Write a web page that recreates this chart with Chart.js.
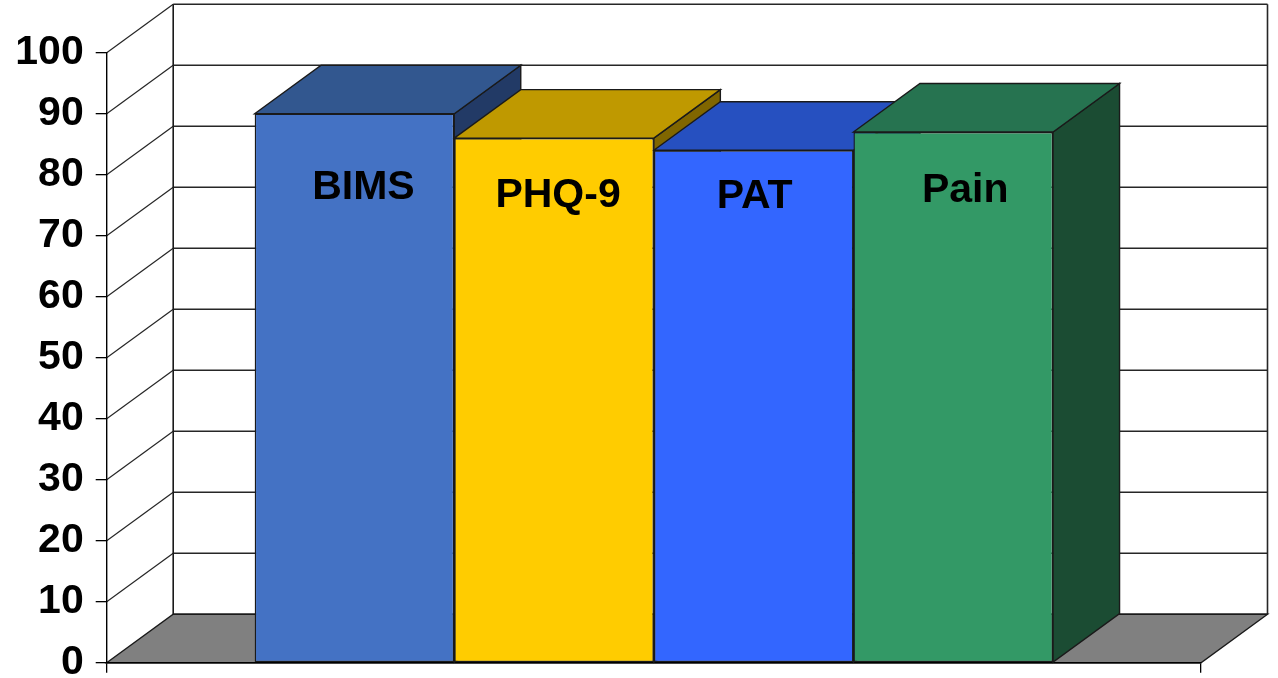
<!DOCTYPE html>
<html>
<head>
<meta charset="utf-8">
<title>Screening completion</title>
<script src="https://cdn.jsdelivr.net/npm/chart.js@4.4.1/dist/chart.umd.min.js"></script>
<style>
  html, body { margin: 0; padding: 0; background: #ffffff; }
  #wrap { width: 1278px; height: 678px; }
</style>
</head>
<body>
<div id="wrap"><canvas id="chart" width="1278" height="678"></canvas></div>
<script>
// Series (one bar per instrument) and their scores
const categories = ['BIMS', 'PHQ-9', 'PAT', 'Pain'];
const scores = [90, 86, 84, 87];
// Value axis
const yMin = 0;
const yMax = 100;
const yStep = 10;

// Face colours for each bar: front, top, side
const frontColors = ['#4472C4', '#FFCC00', '#3366FF', '#339966'];
const topColors   = ['#32578F', '#BF9900', '#2650C0', '#267350'];
const sideColors  = ['#223A66', '#806600', '#1A3380', '#1B4C33'];

// Depth of the 3D box (pixels to the right and upward)
const DEPTH_X = 66.5;
const DEPTH_Y = 48.5;
// Series-name labels sit near the same height in every bar, with small nudges
const LABEL_LEVEL = 75;
const labelNudge = [[9, -6], [4, 1.5], [1, 3], [12, -3]];

const FONT = '"Liberation Sans", Arial, Helvetica, sans-serif';
const LINE = '#1a1a1a';

function poly(ctx, pts, fill, stroke, lw) {
  ctx.beginPath();
  ctx.moveTo(pts[0][0], pts[0][1]);
  for (let i = 1; i < pts.length; i++) ctx.lineTo(pts[i][0], pts[i][1]);
  ctx.closePath();
  if (fill) { ctx.fillStyle = fill; ctx.fill(); }
  if (stroke) { ctx.strokeStyle = stroke; ctx.lineWidth = lw; ctx.lineJoin = 'miter'; ctx.stroke(); }
}

function line(ctx, x1, y1, x2, y2, color, lw) {
  ctx.beginPath();
  ctx.moveTo(x1, y1);
  ctx.lineTo(x2, y2);
  ctx.strokeStyle = color;
  ctx.lineWidth = lw;
  ctx.stroke();
}

// Back wall, left wall gridlines and the grey floor
const wallsPlugin = {
  id: 'walls3d',
  beforeDraw(chart) {
    const ctx = chart.ctx;
    const ys = chart.scales.y;
    const a = chart.chartArea;
    const x0 = a.left, x1 = a.right;
    const yb = ys.getPixelForValue(yMin), yt = ys.getPixelForValue(yMax);
    ctx.save();
    // back wall
    poly(ctx, [[x0 + DEPTH_X, yt - DEPTH_Y], [x1 + DEPTH_X, yt - DEPTH_Y],
               [x1 + DEPTH_X, yb - DEPTH_Y], [x0 + DEPTH_X, yb - DEPTH_Y]], '#ffffff', null, 0);
    for (let v = yMin; v <= yMax; v += yStep) {
      const y = ys.getPixelForValue(v);
      // horizontal gridline on the back wall
      line(ctx, x0 + DEPTH_X, y - DEPTH_Y, x1 + DEPTH_X, y - DEPTH_Y, '#262626', 1.6);
      // receding gridline on the left wall
      if (v > yMin) line(ctx, x0, y, x0 + DEPTH_X, y - DEPTH_Y, '#262626', 1.2);
    }
    // wall edges
    line(ctx, x0 + DEPTH_X, yt - DEPTH_Y, x0 + DEPTH_X, yb - DEPTH_Y, '#1a1a1a', 1.6);
    line(ctx, x1 + DEPTH_X, yt - DEPTH_Y, x1 + DEPTH_X, yb - DEPTH_Y, '#262626', 1.6);
    // floor
    poly(ctx, [[x0, yb], [x1, yb], [x1 + DEPTH_X, yb - DEPTH_Y], [x0 + DEPTH_X, yb - DEPTH_Y]],
         '#808080', '#1a1a1a', 1.4);
    ctx.restore();
  },
  beforeDatasetsDraw(chart) {
    const ctx = chart.ctx;
    ctx.save();
    chart.data.datasets.forEach((ds, i) => {
      const el = chart.getDatasetMeta(i).data[0];
      if (!el) return;
      const l = el.x - el.width / 2, r = el.x + el.width / 2;
      const top = el.y, base = el.base;
      // side face
      poly(ctx, [[r, top], [r + DEPTH_X, top - DEPTH_Y], [r + DEPTH_X, base - DEPTH_Y], [r, base]],
           sideColors[i], LINE, 1.4);
      // top face
      poly(ctx, [[l, top], [r, top], [r + DEPTH_X, top - DEPTH_Y], [l + DEPTH_X, top - DEPTH_Y]],
           topColors[i], LINE, 1.4);
    });
    ctx.restore();
  },
  afterDatasetsDraw(chart) {
    const ctx = chart.ctx;
    const ys = chart.scales.y;
    ctx.save();
    ctx.font = 'bold 41px ' + FONT;
    ctx.fillStyle = '#000000';
    ctx.textAlign = 'center';
    ctx.textBaseline = 'alphabetic';
    chart.data.datasets.forEach((ds, i) => {
      const el = chart.getDatasetMeta(i).data[0];
      if (!el) return;
      const n = labelNudge[i];
      ctx.fillText(ds.label, el.x + n[0], ys.getPixelForValue(LABEL_LEVEL) + n[1]);
    });
    ctx.restore();
  }
};

const datasets = categories.map((name, i) => ({
  label: name,
  data: [scores[i]],
  backgroundColor: frontColors[i],
  borderColor: LINE,
  borderWidth: 1.4,
  borderSkipped: false,
  barPercentage: 1.0,
  categoryPercentage: 0.7296
}));

new Chart(document.getElementById('chart'), {
  type: 'bar',
  data: { labels: [''], datasets },
  options: {
    responsive: false,
    devicePixelRatio: 1,
    animation: false,
    layout: { padding: { top: 52.7, right: 77, left: 0, bottom: 0 } },
    plugins: { legend: { display: false }, tooltip: { enabled: false } },
    scales: {
      x: {
        type: 'category',
        offset: true,
        grid: { offset: true, drawOnChartArea: false, drawTicks: true, tickLength: 10, color: '#000', lineWidth: 1.3 },
        border: { display: true, color: '#000', width: 1.4 },
        ticks: { display: true },
        afterFit(s) {
          s.height = 15.3;
          s.paddingLeft = 0; s.paddingRight = 0;
        }
      },
      y: {
        min: yMin,
        max: yMax,
        ticks: {
          stepSize: yStep,
          color: '#000',
          padding: 12,
          font: { family: FONT, size: 41, weight: 'bold' }
        },
        grid: { drawOnChartArea: false, drawTicks: true, tickLength: 11, color: '#000', lineWidth: 1.3 },
        border: { display: true, color: '#000', width: 1.4 },
        afterFit(s) {
          s.width = 106.7;
          s.paddingTop = 0; s.paddingBottom = 0;
        }
      }
    }
  },
  plugins: [wallsPlugin]
});
</script>
</body>
</html>
